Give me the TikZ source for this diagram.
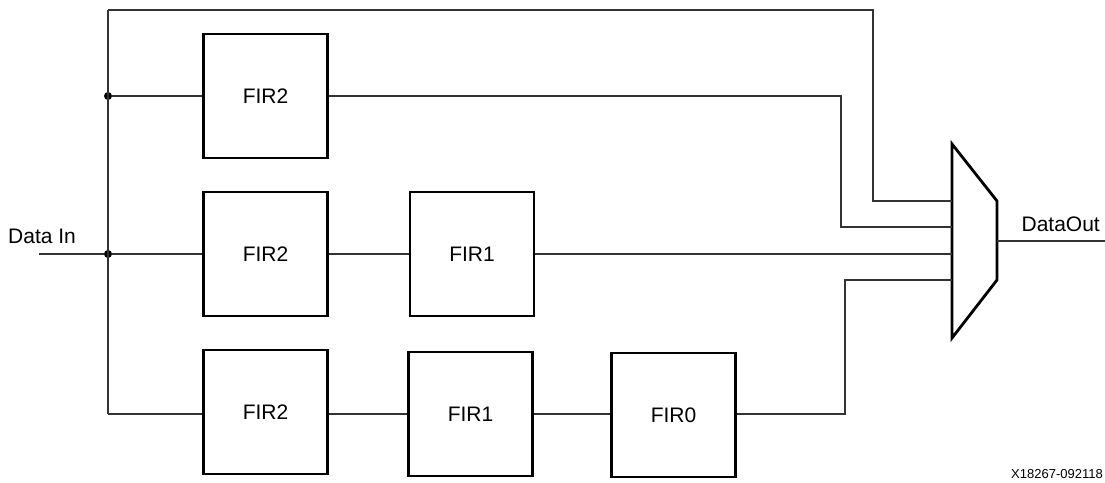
\documentclass[tikz,border=0pt]{standalone}
\usepackage{fontspec}
\setmainfont{Liberation Sans}
\usetikzlibrary{positioning}

\tikzset{
  firbox/.style={draw, line width=2.8pt, minimum width=124pt, minimum height=124pt,
    inner sep=0pt, font=\fontsize{21}{24}\selectfont},
  wire/.style={draw, line width=1.7pt, color=black!80},
  lbl/.style={inner sep=0pt, font=\fontsize{21}{24}\selectfont},
  junct/.style={circle, fill=black, inner sep=0pt, minimum size=8pt}
}

\begin{document}
\begin{tikzpicture}[x=1pt,y=-1pt]
\useasboundingbox (0,0) rectangle (1105,482);

% filter boxes
\node[firbox] (fir2a) at (265.5,96) {FIR2};
\node[firbox] (fir2b) at (265.5,254) {FIR2};
\node[firbox] (fir1b) at (472,254) {FIR1};
\node[firbox] (fir2c) at (265.5,412) {FIR2};
\node[firbox] (fir1c) at (470.5,414) {FIR1};
\node[firbox] (fir0) at (673.5,415) {FIR0};

% mux
\coordinate (mtl) at (952,144);
\coordinate (mtr) at (997,201);
\coordinate (mbr) at (997,280);
\coordinate (mbl) at (952,338);
\draw[line width=2.8pt, line join=miter] (mtl) -- (mtr) -- (mbr) -- (mbl) -- cycle;
\coordinate (min1) at (952,201);
\coordinate (min2) at (952,227);
\coordinate (min3) at (952,254);
\coordinate (min4) at (952,280);
\coordinate (mout) at (997,241);

% input bus
\coordinate (din) at (39,254);
\coordinate (bustop) at (108,10);
\node[junct] (j1) at (108,96) {};
\node[junct] (j2) at (108,254) {};
\coordinate (busbot) at (108,414);

\path[wire] (din) -- (j2);
\path[wire] (bustop) -- (busbot);
\path[wire] (j1) -- (fir2a.west);
\path[wire] (j2) -- (fir2b.west);
\path[wire] (busbot) -- (busbot -| fir2c.west);

% bypass path
\path[wire] (bustop) -- (873,10) -- (873,201) -- (min1);

% branch 1
\path[wire] (fir2a.east) -- (841,96) -- (841,227) -- (min2);

% branch 2
\path[wire] (fir2b.east) -- (fir1b.west);
\path[wire] (fir1b.east) -- (min3);

% branch 3
\path[wire] (busbot -| fir2c.east) -- (busbot -| fir1c.west);
\path[wire] (busbot -| fir1c.east) -- (busbot -| fir0.west);
\path[wire] (busbot -| fir0.east) -- (845,414) -- (845,280) -- (min4);

% output
\coordinate (dout) at (1105,241);
\path[wire] (mout) -- (dout);

% labels
\node[lbl, anchor=west] (lin) at (8,236) {Data In};
\node[lbl, anchor=east] (lout) at (1100,224) {DataOut};
\node[inner sep=0pt, anchor=east, font=\fontsize{13}{15}\selectfont] (tag) at (1103,474) {X18267-092118};

\end{tikzpicture}
\end{document}
